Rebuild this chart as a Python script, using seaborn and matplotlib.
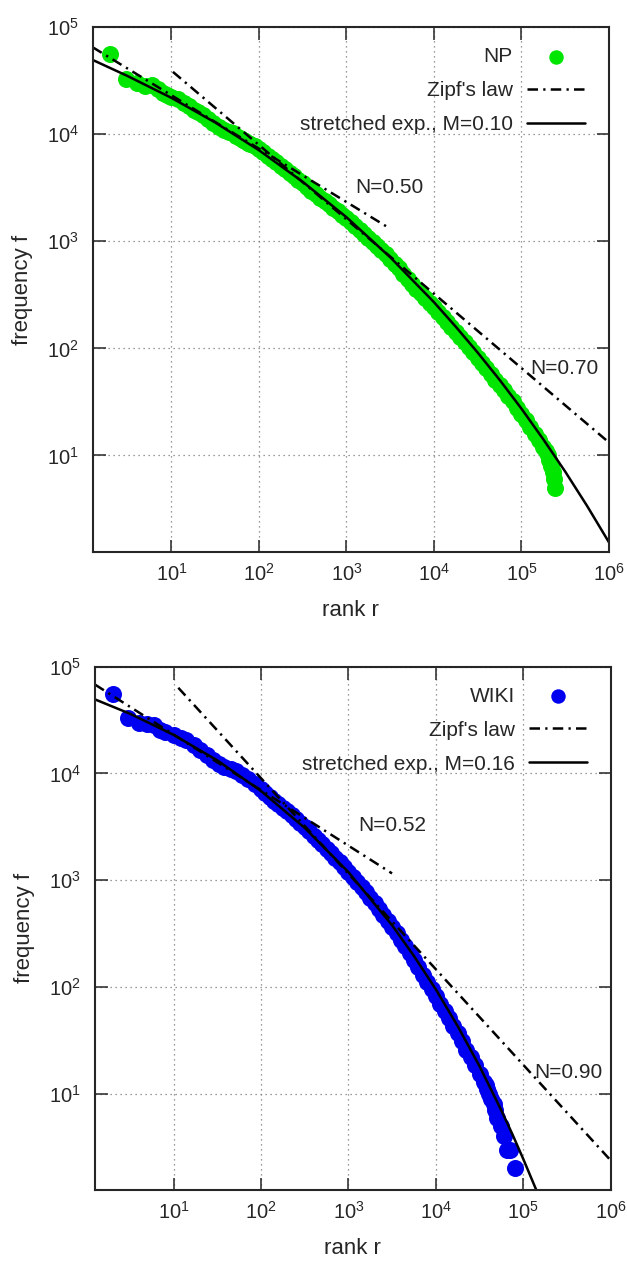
import numpy as np
import matplotlib
matplotlib.use('Agg')
import matplotlib.pyplot as plt
import seaborn as sns
from matplotlib.ticker import LogLocator, NullLocator

# ---- NP corpus ----
np_rank = [2, 3, 4, 5, 6, 7, 8, 9, 10, 12, 14, 16, 18, 20, 23, 26, 30, 35, 40, 45,
           50, 55, 60, 65, 70, 75, 80, 90, 100, 112, 126, 141, 158, 178, 200, 224,
           251, 282, 316, 355, 398, 447, 501, 562, 631, 708, 794, 891, 1000, 1122,
           1259, 1413, 1585, 1778, 1995, 2239, 2512, 2818, 3162, 3548, 3981, 4467,
           5012, 5623, 6310, 7079, 7943, 8913, 10000, 11220, 12589, 14125, 15849,
           17783, 19953, 22387, 25119, 28184, 31623, 35481, 39811, 44668, 50119,
           56234, 63096, 70795, 79433, 89125, 100000, 112202, 125893, 141254,
           158489, 177828, 190546, 199526, 208930, 218776, 226464, 234423, 241546]
np_freq = [56000, 33000, 30000, 28500, 28800, 26500, 24500, 23500, 22500, 21200,
           19800, 18500, 17000, 16200, 15000, 14000, 12700, 11800, 11000, 10500,
           10200, 9700, 9300, 8900, 8600, 8300, 8100, 7700, 7300, 6790, 6310, 5880,
           5470, 5090, 4740, 4380, 4040, 3760, 3505, 3230, 2970, 2760, 2560, 2390,
           2240, 2070, 1920, 1775, 1640, 1510, 1390, 1280, 1180, 1080, 990, 905,
           830, 760, 690, 620, 560, 498, 448, 400, 362, 328, 297, 268, 242, 218,
           197, 177, 159, 143, 128, 115, 103, 92, 82, 73, 65, 58, 51, 45.5, 40.5,
           36, 32, 28, 24.5, 21.5, 18.5, 16, 14, 12, 11, 10, 9, 8, 7, 6, 5]

# Zipf's law segments (N=0.50 and N=0.70)
np_zipf1_rank = [1.26, 2900]
np_zipf1_freq = [65000, 1370]
np_zipf2_rank = [10.4, 1e6]
np_zipf2_freq = [38300, 13.2]

# stretched exponential, M=0.10
np_se_rank = [1.26, 3.16, 10, 31.6, 100, 316, 1000, 3162, 10000, 17783, 31623,
              56234, 100000, 177828, 316228, 562341, 1000000]
np_se_freq = [49500, 35000, 21900, 12900, 7100, 3600, 1680, 710, 270, 159, 91.2,
              50.8, 27.3, 14.1, 7.05, 3.37, 1.54]

# ---- WIKI corpus ----
wiki_rank = [2, 3, 4, 5, 6, 7, 8, 10, 12, 14, 17, 20, 24, 28, 33, 38, 45, 52, 60,
             70, 85, 100, 112, 126, 141, 158, 178, 200, 224, 251, 282, 316, 355,
             398, 447, 501, 562, 631, 708, 794, 891, 1000, 1122, 1259, 1413, 1585,
             1778, 1995, 2239, 2512, 2818, 3162, 3548, 3981, 4467, 5012, 5623, 6310,
             7079, 7943, 8913, 10000, 11220, 12589, 14125, 15849, 17783, 19953,
             22387, 25119, 28184, 31623, 35481, 37584, 38905, 40272, 42658, 45709,
             47863, 50119, 54954, 60954, 64565, 70795, 81283]
wiki_freq = [56000, 32800, 29500, 29000, 28500, 25500, 24600, 23000, 21500, 20600,
             18500, 16600, 14800, 13400, 12300, 11600, 11000, 10500, 9700, 8800,
             7900, 7100, 6530, 6000, 5560, 5150, 4790, 4450, 4085, 3750, 3440,
             3150, 2875, 2620, 2385, 2170, 1970, 1790, 1620, 1470, 1330, 1200, 1075,
             965, 862, 770, 685, 610, 538, 475, 415, 365, 318, 276, 240, 208, 178,
             153, 131, 112, 96, 82, 70, 60, 51, 43, 37, 31, 26, 22, 18.5, 15.5, 13,
             12, 11, 10, 9, 8, 7, 6, 5, 4, 3, 3, 2]

wiki_zipf1_rank = [1.26, 3150]
wiki_zipf1_freq = [68000, 1160]
wiki_zipf2_rank = [11.3, 1e6]
wiki_zipf2_freq = [63500, 2.38]

# stretched exponential, M=0.16
wiki_se_rank = [1.26, 3.16, 10, 31.6, 100, 316, 1000, 3162, 5623, 10000, 17783,
                31623, 56234, 75000, 100000, 141254, 158489]
wiki_se_freq = [49400, 36300, 22990, 13260, 6850, 3095, 1191, 378, 195, 95, 43,
                18.1, 6.97, 4.19, 2.45, 1.25, 0.99]

sns.set_style('ticks')
plt.rcParams['font.family'] = ['Liberation Sans', 'DejaVu Sans']
plt.rcParams['axes.linewidth'] = 1.4

DASHDOT = (0, (4.2, 2.1, 0.9, 2.1))

fig = plt.figure(figsize=(6.27, 12.62), dpi=100)
ax1 = fig.add_axes([0.1478, 0.5628, 0.8235, 0.4156])
ax2 = fig.add_axes([0.1515, 0.0571, 0.8225, 0.4146])

panels = [
    (ax1, np_rank, np_freq, '#00e600', 'NP', np_zipf1_rank, np_zipf1_freq,
     np_zipf2_rank, np_zipf2_freq, np_se_rank, np_se_freq, 'stretched exp., M=0.10',
     [(1250, 3150, 'N=0.50'), (125000, 64.6, 'N=0.70')], 0.9535),
    (ax2, wiki_rank, wiki_freq, '#0000f0', 'WIKI', wiki_zipf1_rank, wiki_zipf1_freq,
     wiki_zipf2_rank, wiki_zipf2_freq, wiki_se_rank, wiki_se_freq,
     'stretched exp., M=0.16',
     [(1285, 3240, 'N=0.52'), (132000, 15.7, 'N=0.90')], 0.9546),
]

for (ax, rk, fq, col, name, z1r, z1f, z2r, z2f, ser, sef, selab, notes, lx) in panels:
    ax.set_xscale('log')
    ax.set_yscale('log')
    sns.scatterplot(x=rk, y=fq, ax=ax, color=col, s=150, linewidth=0,
                    label=name, zorder=2)
    sns.lineplot(x=z1r, y=z1f, ax=ax, color='black', lw=1.8, linestyle=DASHDOT,
                 label="Zipf's law", sort=False, estimator=None, zorder=3)
    sns.lineplot(x=z2r, y=z2f, ax=ax, color='black', lw=1.8, linestyle=DASHDOT,
                 sort=False, estimator=None, zorder=3, legend=False)
    sns.lineplot(x=ser, y=sef, ax=ax, color='black', lw=1.8, label=selab,
                 sort=False, estimator=None, zorder=4)

    for (tx, ty, s) in notes:
        ax.text(tx, ty, s, ha='left', va='center', fontsize=15)

    ax.set_xlim(10 ** 0.1, 1e6)
    ax.set_ylim(10 ** 0.1, 1e5)
    ax.xaxis.set_major_locator(LogLocator(base=10, numticks=10))
    ax.yaxis.set_major_locator(LogLocator(base=10, numticks=10))
    ax.xaxis.set_minor_locator(NullLocator())
    ax.yaxis.set_minor_locator(NullLocator())
    ax.tick_params(which='major', direction='in', top=True, right=True,
                   length=9, width=1.1, labelsize=14.5, pad=8)
    ax.tick_params(axis='y', pad=10)
    ax.grid(True, which='major', color='#7a7a7a', linestyle=(0, (1, 3)), lw=0.9)
    for sp in ax.spines.values():
        sp.set_linewidth(1.5)
        sp.set_zorder(5)

    ax.set_xlabel('rank r', fontsize=16, labelpad=11)
    ax.set_ylabel('frequency f', fontsize=16, labelpad=10)

    h, l = ax.get_legend_handles_labels()
    ax.legend(h, l, loc='upper right', bbox_to_anchor=(lx, 0.962),
              frameon=False, fontsize=15, markerfirst=False, borderpad=0,
              borderaxespad=0, handlelength=2.8, handletextpad=0.66,
              labelspacing=0.72, scatterpoints=1, markerscale=0.85)

fig.savefig('out.png', dpi=100)
